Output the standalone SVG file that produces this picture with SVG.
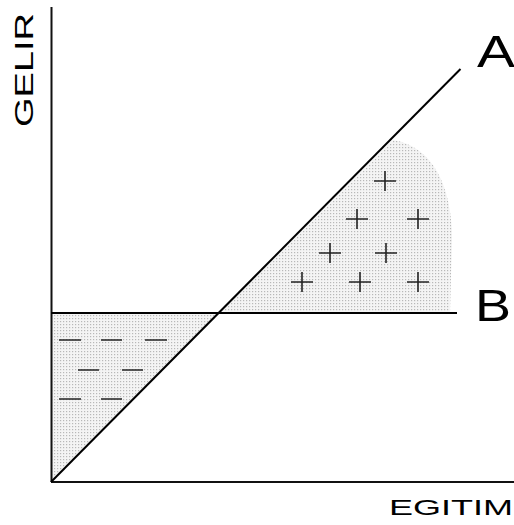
<svg xmlns="http://www.w3.org/2000/svg" width="514" height="525" viewBox="0 0 514 525">
<defs>
<pattern id="dots" width="3" height="3" patternUnits="userSpaceOnUse">
<rect width="3" height="3" fill="#f4f4f4"/>
<rect x="0" y="0" width="1.2" height="1.2" fill="#b8b8b8"/>
</pattern>
</defs>
<style>
.ax{stroke:#111;stroke-width:2;fill:none}
.ln{stroke:#000;stroke-width:2;fill:none}
.pl{stroke:#222;stroke-width:1.6;fill:none}
.lbl{font-family:"Liberation Sans","DejaVu Sans",sans-serif;fill:#000}
</style>
<rect width="514" height="525" fill="#fff"/>
<g id="regions">
<path id="plus-region" d="M 393,140 C 432,146 452,185 452,240 L 450,313 L 220,313 Z" fill="url(#dots)"/>
<path id="minus-region" d="M 51,313 L 220,313 L 51,482 Z" fill="url(#dots)"/>
</g>
<g id="connectors">
<line class="ax" x1="51.5" y1="7" x2="51.5" y2="482"/>
<line class="ax" x1="51" y1="482" x2="514" y2="482"/>
<line id="line-A" class="ln" x1="51" y1="482" x2="460.5" y2="69"/>
<line id="line-B" class="ln" stroke-width="1.6" x1="51" y1="313" x2="457" y2="313"/>
</g>
<g id="plus-signs" class="pl">
<path d="M374,181h22M385,171v20"/>
<path d="M346,219h22M357,209v20"/>
<path d="M407,219h22M418,209v20"/>
<path d="M319,253h22M330,243v20"/>
<path d="M375,253h22M386,243v20"/>
<path d="M291,282h22M302,272v20"/>
<path d="M349,282h22M360,272v20"/>
<path d="M407,282h22M418,272v20"/>
</g>
<g id="minus-signs" class="pl">
<path d="M59,340h22M101,340h21M145,340h22"/>
<path d="M78,370h21M122,370h21"/>
<path d="M59,399h22M101,399h21"/>
</g>
<g id="label-A"><text class="lbl" x="477" y="67" font-size="45" textLength="38" lengthAdjust="spacingAndGlyphs">A</text></g>
<g id="label-B"><text class="lbl" x="475" y="321" font-size="45" textLength="36" lengthAdjust="spacingAndGlyphs">B</text></g>
<g id="label-GELIR"><text class="lbl" transform="translate(33,70) rotate(-90)" text-anchor="middle" font-size="25" textLength="114" lengthAdjust="spacingAndGlyphs">GELIR</text></g>
<g id="label-EGITIM"><text class="lbl" x="389" y="515" font-size="22" textLength="124" lengthAdjust="spacingAndGlyphs">EGITIM</text></g>
</svg>
